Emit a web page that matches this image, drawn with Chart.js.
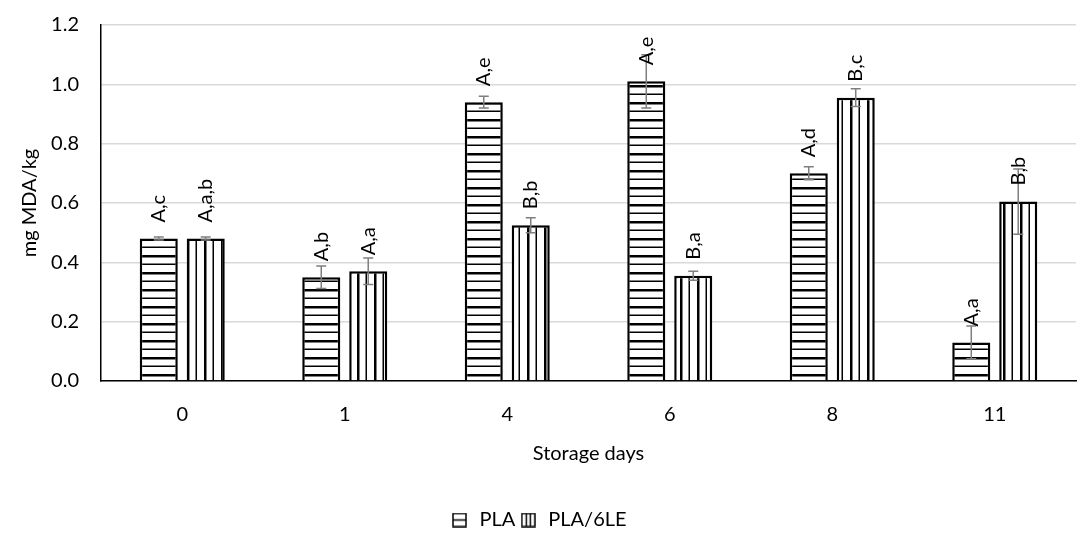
<!DOCTYPE html>
<html>
<head>
<meta charset="utf-8">
<script src="https://cdn.jsdelivr.net/npm/chart.js@4"></script>
<style>
  html, body { margin: 0; padding: 0; background: #fff; }
  #wrap { width: 1084px; height: 534px; }
</style>
</head>
<body>
<div id="wrap"><canvas id="grafico"></canvas></div>
<script>
const days = ["0", "1", "4", "6", "8", "11"];
const plaValues = [0.48, 0.35, 0.94, 1.01, 0.70, 0.13];
const plaErrors = [0.005, 0.038, 0.02, 0.09, 0.022, 0.055];
const plaLetters = ["A,c", "A,b", "A,e", "A,e", "A,d", "A,a"];
const leValues = [0.48, 0.37, 0.525, 0.355, 0.955, 0.605];
const leErrors = [0.005, 0.045, 0.025, 0.015, 0.03, 0.11];
const leLetters = ["A,a,b", "A,a", "B,b", "B,a", "B,c", "B,b"];
const yTicks = [0, 0.2, 0.4, 0.6, 0.8, 1.0, 1.2];

const FONT = 'Lato, "Open Sans", sans-serif';
const SIZE = 20;

// patrones de relleno (rayas)
function stripes(horizontal) {
  const c = document.createElement("canvas");
  c.width = horizontal ? 4 : 17;
  c.height = horizontal ? 17 : 4;
  const g = c.getContext("2d");
  g.fillStyle = "#fff";
  g.fillRect(0, 0, c.width, c.height);
  g.fillStyle = "#000";
  if (horizontal) {
    g.fillRect(0, 0, 4, 2.5);
    g.fillRect(0, 8.5, 4, 1.5);
  } else {
    g.fillRect(0, 0, 2.5, 4);
    g.fillRect(8.5, 0, 1.5, 4);
  }
  return document.createElement("canvas").getContext("2d").createPattern(c, "repeat");
}

function icon(horizontal) {
  const c = document.createElement("canvas");
  c.width = 15; c.height = 15;
  const g = c.getContext("2d");
  g.fillStyle = "#fff";
  g.fillRect(0, 0, 15, 15);
  g.strokeStyle = "#000";
  g.lineWidth = 1.5;
  g.strokeRect(1, 1, 13, 13);
  g.beginPath();
  if (horizontal) {
    g.moveTo(1, 7.5); g.lineTo(14, 7.5);
  } else {
    g.moveTo(5.5, 1); g.lineTo(5.5, 14);
    g.moveTo(9.5, 1); g.lineTo(9.5, 14);
  }
  g.stroke();
  return c;
}

const icons = [icon(true), icon(false)];

// barras de error y letras
const extras = {
  id: "extras",
  afterDatasetsDraw(chart) {
    const ctx = chart.ctx;
    const y = chart.scales.y;
    const errs = [plaErrors, leErrors];
    const letters = [plaLetters, leLetters];
    chart.data.datasets.forEach((ds, d) => {
      const meta = chart.getDatasetMeta(d);
      meta.data.forEach((bar, i) => {
        const v = ds.data[i];
        const top = y.getPixelForValue(v + errs[d][i]);
        const bot = y.getPixelForValue(v - errs[d][i]);
        ctx.save();
        ctx.strokeStyle = "#7f7f7f";
        ctx.lineWidth = 1.5;
        ctx.beginPath();
        ctx.moveTo(bar.x, top); ctx.lineTo(bar.x, bot);
        ctx.moveTo(bar.x - 5, top); ctx.lineTo(bar.x + 5, top);
        ctx.moveTo(bar.x - 5, bot); ctx.lineTo(bar.x + 5, bot);
        ctx.stroke();
        ctx.translate(bar.x, bar.y - 16);
        ctx.rotate(-Math.PI / 2);
        ctx.fillStyle = "#000";
        ctx.font = SIZE + "px " + FONT;
        ctx.textAlign = "left";
        ctx.textBaseline = "middle";
        ctx.fillText(letters[d][i], 0, 0);
        ctx.restore();
      });
    });
  }
};

new Chart(document.getElementById("grafico"), {
  type: "bar",
  data: {
    labels: days,
    datasets: [
      {
        label: "PLA",
        data: plaValues,
        backgroundColor: stripes(true),
        borderColor: "#000",
        borderWidth: 2.5,
        borderSkipped: "bottom"
      },
      {
        label: "PLA/6LE",
        data: leValues,
        backgroundColor: stripes(false),
        borderColor: "#000",
        borderWidth: 2.5,
        borderSkipped: "bottom"
      }
    ]
  },
  options: {
    responsive: true,
    maintainAspectRatio: false,
    animation: false,
    datasets: { bar: { categoryPercentage: 0.578, barPercentage: 0.81 } },
    layout: { padding: { top: 25, right: 8, left: 0, bottom: -6 } },
    scales: {
      x: {
        grid: { display: false, drawTicks: false },
        border: { color: "#000", width: 1.5 },
        ticks: { color: "#000", font: { family: FONT, size: SIZE }, padding: 22 },
        title: {
          display: true, text: "Storage days", color: "#000",
          font: { family: FONT, size: SIZE }, padding: { top: 4, bottom: 41 }
        },
        afterFit(scale) { scale.height = 126; }
      },
      y: {
        min: 0, max: 1.2,
        afterBuildTicks(scale) { scale.ticks = yTicks.map(v => ({ value: v })); },
        grid: { color: "#d9d9d9", lineWidth: 1.5, drawTicks: false },
        border: { color: "#000", width: 1.5 },
        ticks: {
          color: "#000", font: { family: FONT, size: SIZE }, padding: 22,
          callback: v => Number(v).toFixed(1)
        },
        title: {
          display: true, text: "mg MDA/kg", color: "#000",
          font: { family: FONT, size: SIZE }, padding: { top: 18, bottom: 4 }
        },
        afterFit(scale) {
          scale.width = 101;
          scale.paddingTop = 0;
          scale.paddingBottom = 0;
        }
      }
    },
    plugins: {
      legend: {
        position: "bottom",
        labels: {
          color: "#000",
          font: { family: FONT, size: SIZE },
          padding: 3,
          usePointStyle: true,
          generateLabels(chart) {
            return chart.data.datasets.map((ds, i) => ({
              text: ds.label,
              pointStyle: icons[i],
              datasetIndex: i,
              hidden: false,
              lineWidth: 0
            }));
          }
        }
      },
      tooltip: { enabled: false }
    }
  },
  plugins: [extras]
});
</script>
</body>
</html>
